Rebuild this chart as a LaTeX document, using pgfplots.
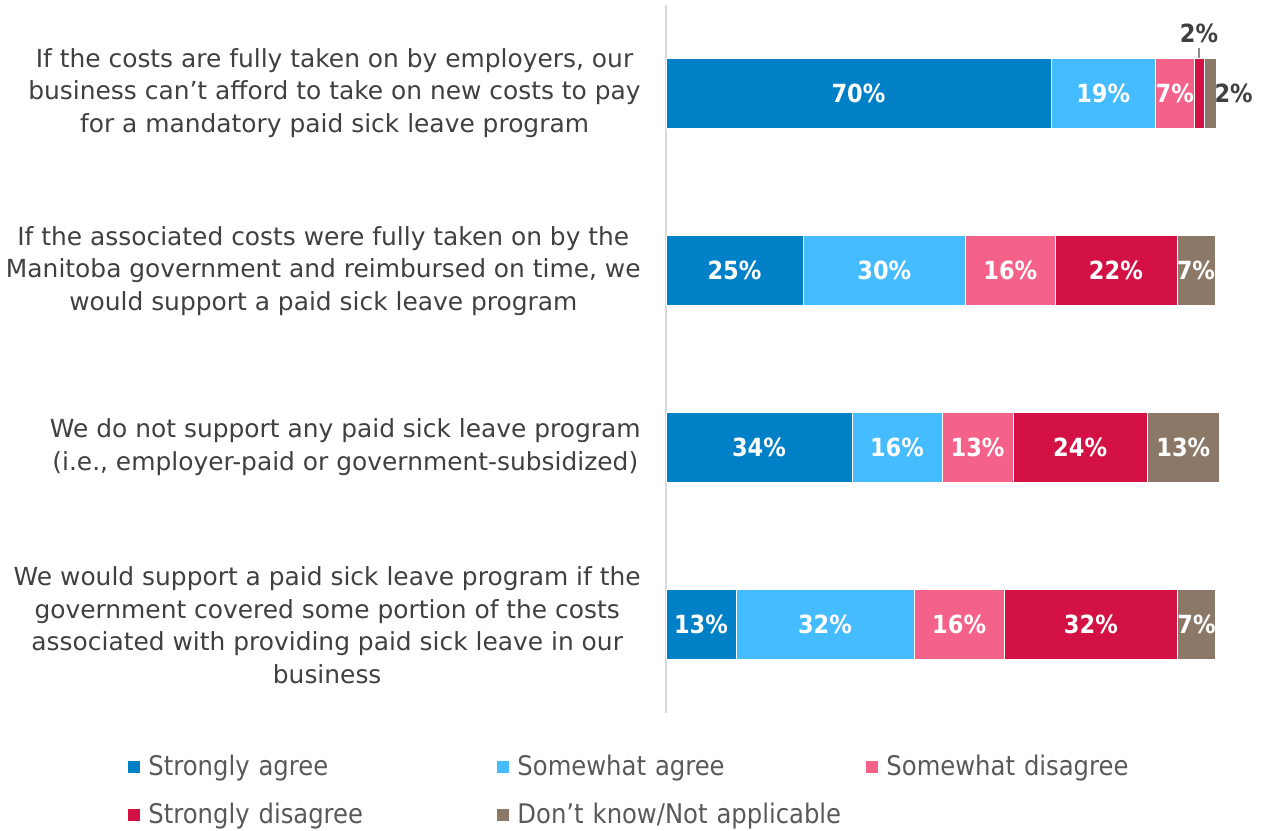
\documentclass[border=0pt]{standalone}
\usepackage{pgfplots}
\pgfplotsset{compat=1.18}
\usepackage{fontspec}
\setmainfont{DejaVu Sans Condensed}
\newfontfamily\catfont{DejaVu Sans}
\definecolor{sa}{HTML}{0080C6}
\definecolor{wa}{HTML}{45BCFF}
\definecolor{wd}{HTML}{F4628A}
\definecolor{sd}{HTML}{D31145}
\definecolor{dk}{HTML}{8B7866}
\definecolor{txt}{HTML}{404040}
\definecolor{leg}{HTML}{595959}
\tikzset{
 lbl/.style={font=\bfseries\fontsize{12.5}{14}\selectfont, text=white},
 olbl/.style={font=\bfseries\fontsize{12.5}{14}\selectfont, text=txt},
 cat/.style={anchor=east, inner sep=0pt, align=center, font=\catfont\fontsize{12.45}{16.25}\selectfont, text=txt}
}
\begin{document}
\begin{tikzpicture}[x=1pt,y=1pt]
\useasboundingbox (0,0) rectangle (631.5,415);
\begin{axis}[
 at={(333pt,58.5pt)}, anchor=south west,
 scale only axis, width=275pt, height=354pt,
 xbar stacked, bar width=35pt,
 xmin=0, xmax=100, ymin=0.5, ymax=4.5, y dir=reverse,
 axis x line=none, axis y line=left,
 y axis line style={draw=black!15, line width=0.8pt, -},
 ytick=\empty, clip=false,
 legend columns=3,
 legend style={at={(-0.978,-0.0593)}, anchor=north west, draw=none, fill=none, inner sep=0pt,
   font=\fontsize{13.5}{15}\selectfont, text=leg,
   nodes={inner sep=0pt, text width=174.5pt, align=left, anchor=west},
   /tikz/every odd column/.append style={column sep=4pt},
   row sep=12pt},
 legend image code/.code={\fill[#1,draw=none] (0pt,-3pt) rectangle (6pt,3pt);},
 after end axis/.code={
  % row 1
  \node[lbl] at (axis cs:35,1) {70\%};
  \node[lbl] at (axis cs:79.5,1) {19\%};
  \node[lbl] at (axis cs:92.5,1) {7\%};
  \draw[black!45, line width=0.6pt] (axis cs:96.9,0.80) -- (axis cs:96.9,0.745);
  \node[olbl] at (axis cs:96.9,0.66) {2\%};
  \node[olbl] at (axis cs:103.2,1) {2\%};
  % row 2
  \node[lbl] at (axis cs:12.45,2) {25\%};
  \node[lbl] at (axis cs:39.7,2) {30\%};
  \node[lbl] at (axis cs:62.6,2) {16\%};
  \node[lbl] at (axis cs:81.8,2) {22\%};
  \node[lbl] at (axis cs:96.35,2) {7\%};
  % row 3
  \node[lbl] at (axis cs:16.9,3) {34\%};
  \node[lbl] at (axis cs:42,3) {16\%};
  \node[lbl] at (axis cs:56.65,3) {13\%};
  \node[lbl] at (axis cs:75.3,3) {24\%};
  \node[lbl] at (axis cs:94.05,3) {13\%};
  % row 4
  \node[lbl] at (axis cs:6.35,4) {13\%};
  \node[lbl] at (axis cs:28.9,4) {32\%};
  \node[lbl] at (axis cs:53.3,4) {16\%};
  \node[lbl] at (axis cs:77.25,4) {32\%};
  \node[lbl] at (axis cs:96.45,4) {7\%};
 },
]
\addplot[fill=sa, draw=white, line width=0.3pt] coordinates {(70,1) (24.9,2) (33.8,3) (12.7,4)};
\addplot[fill=wa, draw=white, line width=0.3pt] coordinates {(19,1) (29.6,2) (16.4,3) (32.4,4)};
\addplot[fill=wd, draw=white, line width=0.3pt] coordinates {(7,1) (16.2,2) (12.9,3) (16.4,4)};
\addplot[fill=sd, draw=white, line width=0.3pt] coordinates {(1.8,1) (22.2,2) (24.4,3) (31.5,4)};
\addplot[fill=dk, draw=white, line width=0.3pt] coordinates {(2.2,1) (6.9,2) (13.1,3) (6.9,4)};
\legend{Strongly agree, Somewhat agree, Somewhat disagree, Strongly disagree, Don’t know/Not applicable}
\end{axis}
\node[cat] at (320.5,368.5) {If the costs are fully taken on by employers, our\\business can’t afford to take on new costs to pay\\for a mandatory paid sick leave program};
\node[cat] at (320.5,279.5) {If the associated costs were fully taken on by the\\Manitoba government and reimbursed on time, we\\would support a paid sick leave program};
\node[cat] at (320.5,191.5) {We do not support any paid sick leave program\\(i.e., employer-paid or government-subsidized)};
\node[cat] at (320.5,102.5) {We would support a paid sick leave program if the\\government covered some portion of the costs\\associated with providing paid sick leave in our\\business};
\end{tikzpicture}
\end{document}
